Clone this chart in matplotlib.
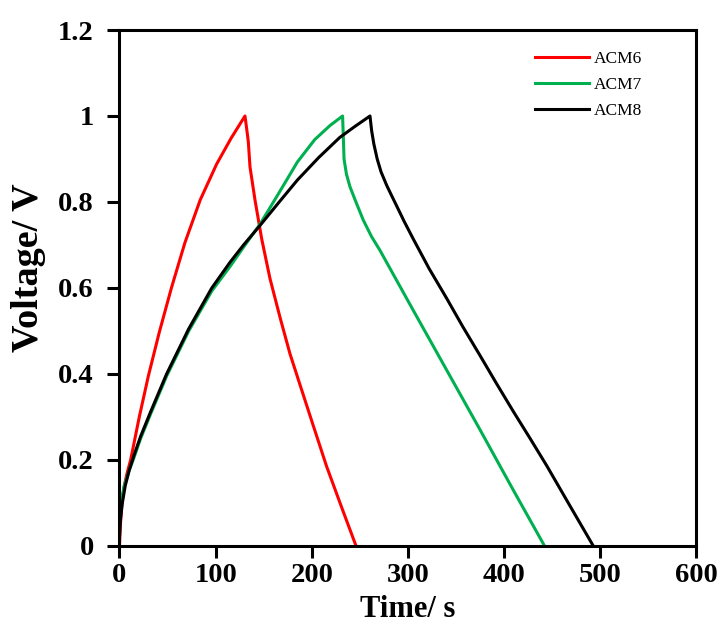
import matplotlib.pyplot as plt

# Galvanostatic charge/discharge curves
t_acm6 = [0, 1, 2.5, 5, 8, 11.6, 20.6, 30, 41.4, 54, 68, 84, 101, 116, 130.5,
          132, 134, 135.7, 140.9, 147.9, 156.5, 166.9, 177.3, 187.7, 201.5, 215.4, 231, 246]
v_acm6 = [0, 0.05, 0.1, 0.14, 0.17, 0.2, 0.3, 0.395, 0.497, 0.6, 0.705, 0.805, 0.888, 0.948, 1.0,
          0.975, 0.94, 0.882, 0.805, 0.714, 0.622, 0.532, 0.447, 0.375, 0.28, 0.185, 0.09, 0]

t_acm7 = [0, 1.5, 5, 10, 15, 22, 32, 49, 72, 96, 115, 129, 146, 165, 185, 203, 219, 232,
          232.8, 233.5, 236, 239.6, 245, 253.5, 262, 271, 305, 340, 375, 409.5, 442]
v_acm7 = [0.07, 0.1, 0.14, 0.175, 0.205, 0.25, 0.305, 0.395, 0.5, 0.593, 0.65, 0.695, 0.748, 0.818, 0.893, 0.945, 0.978, 1.0,
          0.95, 0.9, 0.865, 0.836, 0.805, 0.758, 0.72, 0.687, 0.55, 0.41, 0.27, 0.13, 0]

t_acm8 = [0, 1, 3, 6, 10, 15, 22, 32, 49, 72, 96, 115, 129, 146, 165, 185, 207, 229, 245, 260.5,
          262.2, 264.5, 268, 272, 278, 283.4, 288.2, 296, 305.5, 322, 340.2, 357, 374.9, 392, 409.5,
          427, 444.2, 468, 492.7]
v_acm8 = [0.02, 0.06, 0.1, 0.14, 0.175, 0.21, 0.255, 0.31, 0.4, 0.505, 0.6, 0.66, 0.7, 0.745, 0.797, 0.851, 0.903, 0.95, 0.976, 1.0,
          0.966, 0.935, 0.9, 0.87, 0.838, 0.813, 0.791, 0.755, 0.714, 0.645, 0.576, 0.51, 0.443, 0.378, 0.313,
          0.25, 0.187, 0.095, 0]

x_ticks = [0, 100, 200, 300, 400, 500, 600]
y_ticks = [0, 0.2, 0.4, 0.6, 0.8, 1.0, 1.2]
y_tick_labels = ['0', '0.2', '0.4', '0.6', '0.8', '1', '1.2']

plt.rcParams['font.family'] = 'Liberation Serif'

fig = plt.figure(figsize=(7.21, 6.29), dpi=100)
ax = fig.add_axes([0.1657, 0.1320, 0.8003, 0.8203])

ax.plot(t_acm6, v_acm6, color='#ff0000', lw=2.2, label='ACM6')
ax.plot(t_acm7, v_acm7, color='#00b050', lw=2.2, label='ACM7')
ax.plot(t_acm8, v_acm8, color='black', lw=2.2, label='ACM8')

ax.set_xlim(0, 600)
ax.set_ylim(0, 1.2)
ax.set_xticks(x_ticks)
ax.set_yticks(y_ticks)
ax.set_yticklabels(y_tick_labels)

for s in ax.spines.values():
    s.set_linewidth(2.2)
ax.tick_params(direction='out', length=8.5, width=2.2, labelsize=20.5)
ax.tick_params(axis='x', pad=3.5)
ax.tick_params(axis='y', pad=10)
for lab in ax.get_xticklabels() + ax.get_yticklabels():
    lab.set_fontweight('bold')

ax.set_xlabel('Time/ s', fontsize=22, fontweight='bold')
ax.set_ylabel('Voltage/ V', fontsize=27.5, fontweight='bold')
ax.xaxis.set_label_coords(0.5, -0.0955)
ax.xaxis.label.set_va('top')
ax.yaxis.set_label_coords(-0.128, 0.54)

ax.legend(loc='upper left', bbox_to_anchor=(0.72, 0.959), frameon=False,
          fontsize=12.5, handlelength=3.1, handletextpad=0.3, labelspacing=0.55,
          borderpad=0, borderaxespad=0)

plt.savefig('out.png', dpi=100)
